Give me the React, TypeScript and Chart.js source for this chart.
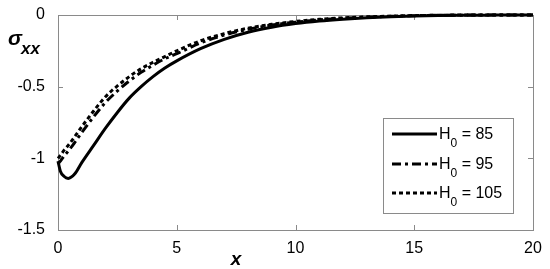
import React, { useEffect, useRef } from "react";
import { Chart, registerables } from "chart.js";

Chart.register(...registerables);

const xValues = [0, 0.1, 0.25, 0.43, 0.7, 1, 1.5, 2, 2.5, 3, 3.5, 4, 4.5, 5, 6, 7, 8, 9, 10, 11, 12, 13, 14, 15, 16, 17, 18, 19, 20];
const h85 = [-1.02, -1.09, -1.125, -1.14, -1.11, -1.03, -0.91, -0.79, -0.68, -0.58, -0.5, -0.43, -0.37, -0.32, -0.235, -0.17, -0.12, -0.085, -0.06, -0.042, -0.029, -0.019, -0.012, -0.007, -0.004, -0.002, -0.001, 0, 0];
const h95 = [-1.04, -1.02, -0.985, -0.95, -0.89, -0.82, -0.71, -0.61, -0.53, -0.46, -0.4, -0.35, -0.305, -0.27, -0.195, -0.14, -0.1, -0.07, -0.05, -0.034, -0.023, -0.015, -0.009, -0.005, -0.002, -0.001, 0, 0, 0];
const h105 = [-1.0, -0.98, -0.945, -0.91, -0.85, -0.78, -0.67, -0.57, -0.495, -0.43, -0.375, -0.33, -0.29, -0.25, -0.18, -0.13, -0.092, -0.065, -0.045, -0.03, -0.02, -0.013, -0.008, -0.004, -0.002, 0, 0, 0, 0];
const seriesLabels = ["85", "95", "105"];
const xTicks = [0, 5, 10, 15, 20];
const yTicks = [0, -0.5, -1, -1.5];

const FONT = "'Liberation Sans', Arial, sans-serif";
const AXIS_COLOR = "#8a8a8a";

export default function App() {
  const ref = useRef<HTMLCanvasElement>(null);

  useEffect(() => {
    const boxPlugin = {
      id: "matlabBox",
      beforeDatasetsDraw(chart: any) {
        const { ctx, chartArea: a, scales } = chart;
        ctx.save();
        ctx.strokeStyle = AXIS_COLOR;
        ctx.lineWidth = 1;
        ctx.strokeRect(Math.round(a.left) + 0.5, Math.round(a.top) + 0.5, Math.round(a.right - a.left), Math.round(a.bottom - a.top));
        const tl = 5;
        ctx.beginPath();
        xTicks.forEach((v) => {
          const px = Math.round(scales.x.getPixelForValue(v)) + 0.5;
          ctx.moveTo(px, a.bottom);
          ctx.lineTo(px, a.bottom - tl);
          ctx.moveTo(px, a.top);
          ctx.lineTo(px, a.top + tl);
        });
        yTicks.forEach((v) => {
          const py = Math.round(scales.y.getPixelForValue(v)) + 0.5;
          ctx.moveTo(a.left, py);
          ctx.lineTo(a.left + tl, py);
          ctx.moveTo(a.right, py);
          ctx.lineTo(a.right - tl, py);
        });
        ctx.stroke();
        ctx.restore();
      },
      afterDraw(chart: any) {
        const { ctx } = chart;
        ctx.save();
        ctx.fillStyle = "#000";
        // y label sigma_xx
        ctx.textBaseline = "alphabetic";
        ctx.textAlign = "left";
        ctx.font = `italic bold 21px ${FONT}`;
        ctx.fillText("σ", 8, 45);
        ctx.font = `italic bold 17px ${FONT}`;
        ctx.fillText("xx", 21, 54);
        // x label
        ctx.font = `italic bold 19px ${FONT}`;
        ctx.textAlign = "center";
        ctx.fillText("x", 236, 265);

        // legend
        const lx = 383, ly = 118, lw = 130, lh = 95;
        ctx.fillStyle = "#fff";
        ctx.fillRect(lx, ly, lw, lh);
        ctx.strokeStyle = AXIS_COLOR;
        ctx.lineWidth = 1;
        ctx.strokeRect(lx + 0.5, ly + 0.5, lw, lh);
        const rows = [133, 163, 192];
        chart.data.datasets.forEach((ds: any, i: number) => {
          const y = rows[i];
          ctx.strokeStyle = "#000";
          ctx.lineWidth = ds.borderWidth;
          ctx.setLineDash(ds.borderDash || []);
          ctx.beginPath();
          ctx.moveTo(392, y + 1);
          ctx.lineTo(437, y + 1);
          ctx.stroke();
          ctx.setLineDash([]);
          ctx.fillStyle = "#000";
          ctx.textAlign = "left";
          ctx.textBaseline = "alphabetic";
          ctx.font = `16px ${FONT}`;
          ctx.fillText("H", 439, y + 6);
          const hw = ctx.measureText("H").width;
          ctx.font = `12px ${FONT}`;
          ctx.fillText("0", 439 + hw, y + 14);
          const zw = ctx.measureText("0").width;
          ctx.font = `16px ${FONT}`;
          ctx.fillText(" = " + seriesLabels[i], 439 + hw + zw, y + 6);
        });
        ctx.restore();
      },
    };

    const mk = (data: number[], dash: number[], label: string) => ({
      label: "H0 = " + label,
      data: xValues.map((x, i) => ({ x, y: data[i] })),
      borderColor: "#000",
      borderWidth: 3,
      borderDash: dash,
      pointRadius: 0,
      fill: false,
      cubicInterpolationMode: "monotone" as const,
      clip: 6,
    });

    const chart = new Chart(ref.current as HTMLCanvasElement, {
      type: "line",
      data: {
        datasets: [
          mk(h85, [], seriesLabels[0]),
          mk(h95, [9, 4, 3, 4], seriesLabels[1]),
          mk(h105, [4, 3], seriesLabels[2]),
        ],
      },
      options: {
        responsive: false,
        animation: false,
        layout: { padding: { top: 15, right: 17, left: 0, bottom: 0 } },
        plugins: { legend: { display: false }, tooltip: { enabled: false } },
        scales: {
          x: {
            type: "linear",
            min: 0,
            max: 20,
            afterFit: (s: any) => { s.height = 39; },
            afterBuildTicks: (s: any) => { s.ticks = xTicks.map((v) => ({ value: v })); },
            grid: { display: false },
            border: { display: false },
            ticks: { font: { family: FONT, size: 16 }, color: "#000", padding: 1, maxRotation: 0, callback: (v: any) => String(v) },
          },
          y: {
            type: "linear",
            min: -1.5,
            max: 0,
            afterFit: (s: any) => { s.width = 58; },
            afterBuildTicks: (s: any) => { s.ticks = yTicks.map((v) => ({ value: v })); },
            grid: { display: false },
            border: { display: false },
            ticks: { font: { family: FONT, size: 16 }, color: "#000", padding: 5, callback: (v: any) => String(v) },
          },
        },
      } as any,
      plugins: [boxPlugin],
    });
    return () => chart.destroy();
  }, []);

  return (
    <div style={{ position: "fixed", left: 0, top: 0, width: 550, height: 269, background: "#fff" }}>
      <canvas ref={ref} width={550} height={269} style={{ display: "block" }} />
    </div>
  );
}
